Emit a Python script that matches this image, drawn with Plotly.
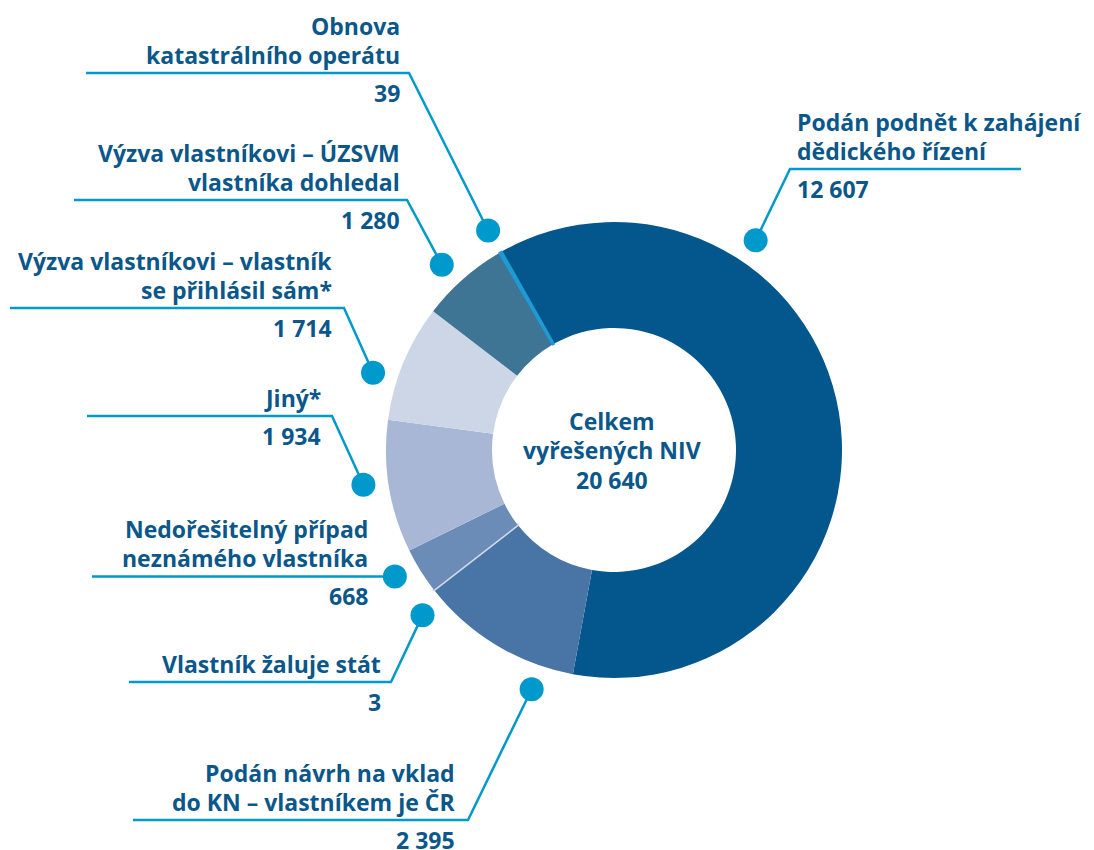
import math
import plotly.graph_objects as go

# ---------------- data ----------------
categories = [
    "Podán podnět k zahájení\ndědického řízení",
    "Podán návrh na vklad\ndo KN – vlastníkem je ČR",
    "Vlastník žaluje stát",
    "Nedořešitelný případ\nneznámého vlastníka",
    "Jiný*",
    "Výzva vlastníkovi – vlastník\nse přihlásil sám*",
    "Výzva vlastníkovi – ÚZSVM\nvlastníka dohledal",
    "Obnova\nkatastrálního operátu",
]
values = [12607, 2395, 3, 668, 1934, 1714, 1280, 39]
center_title = ["Celkem", "vyřešených NIV"]

# ---------------- styling / layout ----------------
slice_colors = ["#03578C", "#4874A6", "#D0D8E8", "#6C8CB8",
                "#A7B7D5", "#CDD6E7", "#3E7594", "#1E9AD6"]
slice_line_w = [0, 0, 3, 0, 0, 0, 0, 2]
TEXT_C = "#0B578A"
CYAN = "#0099CC"
FONT = "Open Sans"
FS = 23
LINE_H = 29.5

W, H = 1094, 850
OFF_X, OFF_Y = 8, 8   # page body margin
CX, CY, R, R_IN = 614, 450, 228, 122
ROT = -29.5
DOT_R = 253

# callout layout: side, text x, underline y, elbow x, far x, fraction along slice, angle nudge
callouts = [
    dict(side="R", tx=795, uy=169, ex=790, fx=1021, frac=0.289, nudge=0),
    dict(side="L", tx=457, uy=820, ex=468, fx=133, frac=0.206, nudge=0),
    dict(side="L", tx=383, uy=682, ex=391, fx=129, frac=0.5, nudge=-3),
    dict(side="L", tx=370, uy=None, ex=None, fx=92, frac=0.67, nudge=0),
    dict(side="L", tx=323, uy=416, ex=332, fx=87, frac=0.54, nudge=0),
    dict(side="L", tx=334, uy=308, ex=344, fx=10, frac=0.34, nudge=0),
    dict(side="L", tx=402, uy=200, ex=407, fx=74, frac=0.43, nudge=0),
    dict(side="L", tx=402, uy=73, ex=409, fx=86, frac=0.5, nudge=0),
]


def px(x):
    return x - OFF_X


def py(y):
    return y - OFF_Y


def fmt(v):
    return f"{v:,}".replace(",", " ")


total = sum(values)

fig = go.Figure()

fig.add_trace(go.Pie(
    labels=[c.replace("\n", " ") for c in categories],
    values=values,
    sort=False,
    direction="clockwise",
    rotation=ROT,
    hole=R_IN / R,
    marker=dict(colors=slice_colors,
                line=dict(color=slice_colors, width=slice_line_w)),
    textinfo="none",
    hoverinfo="label+value",
    domain=dict(x=[px(CX - R) / W, px(CX + R) / W],
                y=[(H - py(CY) - R) / H, (H - py(CY) + R) / H]),
    showlegend=False,
))

annotations = []
line_x, line_y = [], []
dot_x, dot_y = [], []
font = dict(family=FONT, size=FS, color=TEXT_C, weight="bold")

cum = 0
for cat, val, co in zip(categories, values, callouts):
    a0 = ROT + 360 * cum / total
    span = 360 * val / total
    cum += val
    ang = math.radians(a0 + co["frac"] * span + co["nudge"])
    dx = CX + DOT_R * math.sin(ang)
    dy = CY - DOT_R * math.cos(ang)
    dot_x.append(px(dx))
    dot_y.append(py(dy))

    uy = co["uy"] if co["uy"] is not None else dy
    ex = co["ex"] if co["ex"] is not None else dx
    line_x += [px(co["fx"]), px(ex), px(dx), None]
    line_y += [py(uy), py(uy), py(dy), None]

    anchor = "right" if co["side"] == "L" else "left"
    lines = cat.split("\n")
    n = len(lines)
    for i, t in enumerate(lines):
        yc = uy - 18 - (n - 1 - i) * LINE_H
        annotations.append(dict(
            x=px(co["tx"]), y=py(yc), xref="x", yref="y", text=t,
            showarrow=False, xanchor=anchor, yanchor="middle", font=font))
    annotations.append(dict(
        x=px(co["tx"]), y=py(uy + 20), xref="x", yref="y", text=fmt(val),
        showarrow=False, xanchor=anchor, yanchor="middle", font=font))

center_lines = center_title + [fmt(total)]
for i, t in enumerate(center_lines):
    annotations.append(dict(
        x=px(CX - 2), y=py(CY + (i - 1) * LINE_H), xref="x", yref="y", text=t,
        showarrow=False, xanchor="center", yanchor="middle", font=font))

fig.add_trace(go.Scatter(x=line_x, y=line_y, mode="lines",
                         line=dict(color=CYAN, width=2.5),
                         hoverinfo="skip", showlegend=False))
fig.add_trace(go.Scatter(x=dot_x, y=dot_y, mode="markers",
                         marker=dict(color=CYAN, size=24, line=dict(width=0)),
                         hoverinfo="skip", showlegend=False))

fig.update_layout(
    width=W, height=H,
    margin=dict(l=0, r=0, t=0, b=0),
    paper_bgcolor="white", plot_bgcolor="white",
    xaxis=dict(range=[0, W], visible=False, domain=[0, 1], fixedrange=True),
    yaxis=dict(range=[H, 0], visible=False, domain=[0, 1], fixedrange=True),
    annotations=annotations,
    showlegend=False,
)

fig.write_html("out.html")
